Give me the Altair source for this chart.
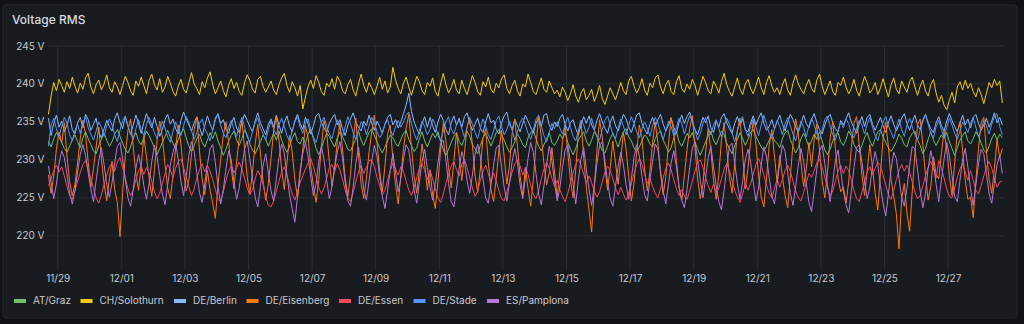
import altair as alt
import pandas as pd

# ---- data (2-hourly readings, starting 2023-11-28 17:00 local; one row per day) ----
series_names = ["AT/Graz", "CH/Solothurn", "DE/Berlin", "DE/Eisenberg", "DE/Essen", "DE/Stade", "ES/Pamplona"]
series_colors = ["#73BF69", "#F2CC0C", "#8AB8FF", "#FF780A", "#F2495C", "#5794F2", "#B877D9"]
x_tick_days = ["2023-11-29", "2023-12-01", "2023-12-03", "2023-12-05", "2023-12-07", "2023-12-09",
               "2023-12-11", "2023-12-13", "2023-12-15", "2023-12-17", "2023-12-19", "2023-12-21",
               "2023-12-23", "2023-12-25", "2023-12-27"]
y_tick_values = [220, 225, 230, 235, 240, 245]
title_text = "Voltage RMS"

at_graz = [
    232.5, 231.7, 232.8, 233.6, 233.0, 232.3, 231.5, 231.0, 231.8, 232.6, 233.3, 232.4,
    231.6, 232.9, 233.7, 232.8, 232.0, 231.2, 230.8, 231.9, 232.7, 233.5, 232.6, 231.8,
    232.4, 233.4, 234.0, 233.1, 232.2, 231.4, 230.9, 231.7, 232.9, 233.6, 232.5, 232.0,
    232.9, 233.8, 233.2, 232.4, 231.6, 230.7, 231.5, 232.3, 233.1, 233.9, 233.0, 232.2,
    231.5, 232.7, 233.5, 234.1, 232.9, 231.8, 231.1, 231.9, 232.8, 233.4, 232.3, 231.7,
    232.6, 233.6, 232.8, 233.7, 232.5, 231.6, 230.6, 231.4, 232.5, 233.2, 233.8, 232.6,
    231.9, 232.8, 233.9, 233.3, 232.1, 231.3, 230.8, 231.6, 232.4, 233.3, 232.7, 231.8,
    232.7, 233.5, 232.6, 233.8, 232.6, 231.7, 231.0, 231.8, 232.9, 233.6, 232.4, 232.1,
    233.0, 232.2, 233.4, 234.0, 232.8, 231.5, 230.7, 231.5, 232.6, 233.5, 233.1, 232.3,
    231.7, 232.9, 233.7, 233.0, 232.3, 231.4, 231.2, 232.0, 232.7, 233.8, 232.6, 231.9,
    232.8, 233.6, 234.1, 233.2, 232.4, 231.6, 230.9, 231.7, 232.5, 233.3, 232.9, 232.2,
    231.8, 232.7, 233.5, 233.9, 232.7, 231.9, 231.1, 231.6, 232.8, 233.7, 232.5, 231.7,
    232.6, 233.5, 232.9, 233.7, 232.5, 231.3, 230.6, 231.4, 232.3, 233.1, 233.6, 232.4,
    231.9, 232.8, 233.8, 233.1, 232.0, 231.5, 230.8, 231.9, 232.9, 233.5, 232.7, 231.8,
    232.7, 233.6, 234.0, 233.3, 232.6, 231.7, 231.0, 231.6, 232.4, 233.4, 232.8, 232.0,
    231.6, 232.9, 233.6, 233.9, 232.8, 231.8, 231.2, 232.0, 232.7, 233.6, 232.3, 231.9,
    232.5, 233.4, 232.8, 233.6, 232.3, 231.4, 230.7, 231.5, 232.6, 233.2, 233.7, 232.5,
    231.8, 232.6, 233.7, 233.2, 232.1, 231.2, 230.9, 231.8, 232.8, 233.5, 232.6, 231.7,
    232.8, 233.7, 234.1, 233.0, 232.5, 231.6, 231.1, 231.7, 232.5, 233.3, 232.9, 232.1,
    231.7, 232.8, 233.5, 233.8, 232.6, 231.9, 231.0, 231.6, 232.9, 233.7, 232.4, 231.8,
    232.6, 233.5, 232.9, 233.6, 232.4, 231.4, 230.6, 231.5, 232.4, 233.2, 233.8, 232.6,
    232.0, 232.9, 233.8, 233.3, 232.2, 231.5, 230.8, 231.9, 232.7, 233.6, 232.8, 231.9,
    232.7, 233.6, 234.0, 233.1, 232.4, 231.7, 231.2, 231.8, 232.6, 233.4, 232.5, 232.2,
    231.6, 232.8, 233.6, 233.9, 232.7, 231.8, 230.9, 231.6, 232.8, 233.5, 232.7, 231.7,
    232.5, 233.4, 232.7, 233.7, 232.5, 231.3, 230.7, 231.4, 232.5, 233.3, 233.6, 232.4,
    231.9, 232.7, 233.8, 233.2, 232.0, 231.4, 231.0, 231.9, 232.9, 233.6, 232.5, 231.8,
    232.8, 233.7, 234.0, 233.0, 232.3, 231.6, 231.1, 231.7, 232.4, 233.4, 232.9, 232.0,
    231.7, 232.9, 233.5, 233.8, 232.6, 231.9, 230.8, 231.5, 232.7, 233.7, 232.6, 231.9,
    232.6, 233.3, 232.8, 233.6, 232.4, 231.5, 230.6, 231.6, 232.6, 233.2, 233.7, 232.5,
    232.1, 232.8, 233.7, 233.1, 232.2, 231.3, 230.9, 231.8, 232.8, 233.5, 232.6, 233.4,
    232.9,
]

ch_solothurn = [
    236.0, 238.4, 240.2, 239.1, 240.6, 239.8, 238.9, 240.3, 239.4, 240.9, 239.7, 238.8,
    240.1, 239.3, 240.8, 241.4, 239.6, 238.7, 239.9, 240.5, 239.2, 240.0, 241.2, 239.5,
    238.9, 240.3, 239.6, 238.6, 239.8, 241.0, 240.2, 239.1, 238.5, 240.4, 239.7, 240.9,
    239.8, 238.7, 240.5, 241.3, 239.9, 239.2, 240.7, 238.9, 239.6, 241.0, 240.1, 239.0,
    238.4, 239.7, 240.6, 239.3, 238.8, 240.2, 241.5, 240.0, 239.4, 238.6, 240.3, 239.5,
    240.8, 241.6, 239.9, 238.7, 239.5, 240.4, 239.1, 238.3, 239.8, 240.7, 239.4, 240.2,
    239.0, 238.5, 240.1, 241.2, 240.5, 239.3, 238.8, 240.6, 241.0, 239.7, 238.9, 239.6,
    240.4, 239.2, 238.6, 239.9, 240.8, 241.4, 239.8, 238.9, 240.3, 239.5, 238.4, 239.8,
    236.7, 238.3, 239.7, 240.5, 239.4, 241.1, 240.2, 239.0, 238.5, 240.1, 239.6, 240.7,
    239.3, 241.0, 240.4, 239.1, 238.7, 239.9, 240.6, 239.2, 238.4, 240.0, 241.3, 239.8,
    238.9, 240.2, 239.5, 238.6, 239.7, 240.9, 239.3, 240.4, 238.8, 239.6, 242.2, 240.5,
    239.4, 238.7, 240.1, 240.9, 239.6, 238.5, 239.8, 241.0, 240.3, 239.1, 238.6, 240.2,
    239.7, 240.8, 239.0, 238.4, 240.0, 241.4, 239.9, 238.8, 239.5, 240.6, 239.2, 238.7,
    240.5, 239.4, 238.6, 239.9, 241.1, 240.2, 239.0, 238.5, 240.3, 239.6, 240.9, 239.3,
    238.8, 240.1, 239.5, 240.7, 241.2, 239.4, 238.7, 239.8, 240.5, 239.1, 238.4, 240.0,
    239.6, 241.3, 240.2, 239.0, 238.6, 239.7, 240.8, 239.3, 238.9, 240.4, 239.5, 238.7,
    239.2, 238.3, 239.6, 238.9, 237.8, 238.7, 239.9, 238.4, 237.6, 238.8, 239.4, 237.9,
    238.5, 239.3, 237.7, 238.6, 239.8, 238.1, 237.3, 238.4, 239.5, 238.7, 237.9, 239.0,
    240.2, 239.1, 238.6, 240.4, 241.0, 239.7, 238.8, 239.5, 240.7, 239.2, 238.5, 240.1,
    239.5, 240.8, 241.2, 239.6, 238.7, 239.9, 240.5, 239.0, 238.6, 240.3, 241.1, 239.4,
    238.9, 240.0, 239.3, 240.6, 239.8, 238.5, 239.7, 241.0, 240.2, 239.1, 238.7, 240.4,
    239.7, 238.8, 240.3, 241.4, 239.9, 239.0, 238.4, 239.6, 240.8, 239.3, 238.6, 240.0,
    240.6, 239.4, 238.7, 239.8, 240.9, 239.5, 238.6, 240.2, 241.1, 239.7, 238.9, 239.5,
    238.6, 239.9, 240.7, 239.2, 238.5, 240.1, 241.2, 240.0, 239.3, 238.7, 239.8, 240.6,
    239.4, 238.9, 240.5, 241.3, 239.7, 238.6, 239.5, 240.4, 239.0, 238.5, 240.2, 239.8,
    240.9, 239.6, 238.7, 239.4, 240.6, 239.2, 238.4, 239.8, 241.0, 240.1, 238.8, 239.3,
    240.2, 238.6, 239.5, 240.7, 239.4, 238.3, 239.9, 240.8, 239.3, 238.7, 240.4, 239.6,
    238.9, 240.3, 240.9, 239.6, 238.5, 239.7, 240.5, 239.1, 238.4, 239.9, 240.6, 238.8,
    237.6, 238.5, 237.2, 236.6, 237.8, 238.9, 237.5, 239.6, 240.3, 239.2, 240.5, 239.4,
    240.1, 239.0, 238.3, 239.5, 238.6, 237.4, 238.8, 240.2, 239.5, 240.6, 239.8, 240.4,
    237.5,
]

de_berlin = [
    235.5, 233.2, 234.8, 235.9, 234.3, 235.1, 233.7, 234.6, 235.8, 234.0, 233.4, 234.9,
    235.6, 234.2, 236.0, 235.3, 233.9, 234.7, 235.5, 233.6, 232.9, 234.1, 235.2, 234.4,
    233.8, 235.4, 236.2, 234.9, 234.1, 235.7, 234.5, 233.3, 234.6, 235.9, 234.8, 233.5,
    234.9, 236.1, 235.0, 234.2, 235.6, 234.4, 233.1, 234.0, 235.3, 236.0, 234.7, 235.4,
    234.1, 233.4, 235.2, 236.3, 235.4, 234.6, 233.8, 234.9, 235.7, 234.3, 233.2, 234.5,
    235.8, 234.7, 233.9, 235.5, 236.1, 234.8, 235.3, 234.0, 233.5, 234.8, 235.6, 234.2,
    233.6, 235.0, 236.0, 235.2, 234.4, 233.7, 235.1, 236.2, 234.9, 234.1, 233.3, 234.7,
    235.4, 234.3, 235.9, 234.6, 233.5, 234.9, 235.8, 234.4, 233.7, 235.2, 236.0, 234.8,
    234.0, 235.6, 234.7, 233.4, 234.5, 235.8, 236.1, 234.9, 234.2, 233.6, 234.8, 235.5,
    236.0, 234.6, 235.3, 234.1, 233.2, 234.6, 235.4, 236.2, 235.0, 234.3, 233.8, 235.1,
    234.5, 235.9, 234.8, 233.9, 235.1, 234.4, 233.5, 234.7, 235.6, 236.0, 234.6, 235.3,
    234.2, 235.0, 236.1, 237.2, 238.8, 236.4, 235.0, 234.1, 233.4, 234.8, 235.7, 234.3,
    235.6, 234.5, 233.6, 235.0, 236.0, 235.2, 234.0, 233.3, 234.9, 235.8, 234.6, 235.5,
    234.3, 235.7, 236.2, 234.8, 233.9, 234.7, 235.5, 234.2, 233.6, 235.0, 236.1, 234.9,
    235.2, 234.0, 233.4, 234.9, 235.8, 236.3, 234.7, 234.0, 235.3, 234.5, 233.7, 234.8,
    235.9, 235.1, 234.3, 233.5, 234.8, 235.6, 234.4, 235.9, 236.1, 234.6, 233.9, 235.0,
    234.4, 235.5, 236.0, 234.7, 233.8, 234.9, 235.3, 234.1, 233.3, 234.6, 235.7, 234.8,
    235.8, 234.6, 233.9, 235.2, 236.1, 235.0, 234.2, 233.5, 234.9, 235.8, 234.5, 233.8,
    234.9, 236.0, 235.4, 234.3, 233.6, 234.8, 235.9, 236.2, 234.8, 234.0, 233.4, 234.7,
    235.6, 234.4, 235.3, 236.0, 234.7, 233.8, 234.6, 235.5, 234.3, 233.5, 235.0, 235.9,
    234.8, 235.7, 236.3, 235.1, 234.0, 233.3, 234.5, 235.6, 234.9, 235.8, 234.2, 233.6,
    235.1, 234.3, 235.6, 236.1, 234.9, 234.1, 233.5, 234.8, 235.7, 234.6, 235.4, 234.0,
    233.7, 234.9, 235.8, 234.6, 235.5, 236.2, 234.8, 233.9, 234.4, 235.3, 234.1, 235.0,
    235.9, 234.7, 233.8, 235.0, 236.0, 235.3, 234.3, 233.6, 234.7, 235.9, 234.8, 234.2,
    235.3, 236.1, 234.9, 234.0, 233.4, 234.6, 235.5, 236.0, 234.9, 234.1, 233.7, 235.2,
    234.6, 235.4, 236.2, 235.0, 234.2, 233.5, 234.8, 235.7, 234.4, 235.6, 236.0, 234.7,
    233.9, 234.8, 235.6, 234.5, 233.6, 234.9, 235.8, 234.7, 233.8, 234.6, 235.5, 236.1,
    234.8, 233.9, 235.0, 235.9, 234.6, 234.0, 235.3, 236.0, 234.9, 234.1, 233.6, 234.9,
    235.7, 234.5, 233.8, 235.1, 236.1, 235.2, 234.4, 233.7, 234.8, 235.9, 234.6, 235.4,
    234.2, 235.6, 236.0, 234.8, 233.9, 234.6, 235.5, 234.3, 235.1, 236.2, 234.9, 235.6,
    234.6,
]

de_eisenberg = [
    228.0, 225.6, 227.9, 231.4, 233.7, 232.2, 234.9, 230.5, 227.1, 225.3, 226.8, 229.6,
    232.8, 235.2, 233.4, 229.7, 226.4, 228.9, 231.7, 234.3, 230.1, 226.9, 224.6, 227.5,
    229.8, 226.1, 224.4, 219.9, 225.7, 230.6, 233.9, 235.4, 231.8, 228.2, 226.0, 229.3,
    233.1, 230.4, 227.6, 225.2, 228.7, 232.6, 235.1, 233.0, 229.4, 226.3, 224.9, 228.0,
    231.5, 234.6, 232.1, 228.4, 225.9, 227.3, 230.8, 234.0, 235.6, 231.2, 227.5, 225.4,
    228.6, 226.0, 224.3, 222.3, 226.8, 230.1, 233.3, 235.0, 232.4, 228.9, 226.2, 229.7,
    232.9, 235.3, 231.6, 227.8, 225.5, 228.4, 232.0, 234.7, 230.9, 227.2, 224.7, 226.9,
    230.3, 233.8, 235.7, 232.6, 228.7, 226.1, 229.5, 233.2, 231.0, 227.4, 225.0, 228.2,
    231.4, 234.5, 232.9, 229.1, 226.6, 224.4, 227.3, 231.8, 235.2, 233.6, 229.8, 226.5,
    228.8, 232.4, 234.9, 231.3, 227.6, 225.2, 228.1, 232.7, 235.5, 230.6, 226.8, 224.9,
    227.6, 231.0, 233.7, 235.9, 232.3, 228.5, 225.8, 229.2, 233.4, 234.6, 230.0, 226.7,
    224.2, 227.9, 231.5, 234.2, 236.0, 231.7, 227.9, 225.6, 228.6, 232.1, 229.4, 226.0,
    228.7, 225.4, 223.6, 227.1, 231.3, 234.8, 232.5, 229.0, 226.3, 229.8, 233.6, 230.5,
    227.3, 230.9, 234.4, 235.6, 231.9, 228.0, 225.7, 228.8, 232.9, 234.1, 229.7, 226.1,
    224.5, 227.6, 231.2, 233.9, 230.4, 226.8, 229.3, 233.5, 235.4, 231.8, 227.9, 225.3,
    229.0, 226.2, 223.9, 227.4, 232.0, 235.7, 233.1, 229.5, 226.7, 228.3, 231.6, 228.4,
    225.1, 228.5, 232.4, 234.6, 231.0, 227.3, 225.0, 228.7, 233.8, 235.2, 230.3, 226.4,
    223.4, 220.5, 226.3, 231.2, 235.3, 233.0, 229.1, 226.0, 228.9, 232.5, 229.6, 226.8,
    230.2, 233.6, 231.4, 227.8, 224.6, 226.9, 231.1, 234.6, 232.8, 228.7, 225.9, 228.5,
    232.3, 235.0, 232.2, 228.2, 225.4, 227.8, 232.1, 235.6, 233.7, 229.9, 226.4, 224.7,
    227.9, 231.4, 234.1, 235.8, 231.6, 227.5, 224.9, 226.8, 230.9, 234.2, 231.2, 227.3,
    224.8, 228.1, 232.6, 234.9, 231.5, 227.7, 225.6, 229.4, 233.9, 235.5, 230.7, 226.2,
    228.9, 232.4, 235.2, 232.1, 228.0, 225.1, 223.8, 227.6, 231.9, 234.0, 230.5, 227.0,
    230.6, 227.8, 225.3, 223.7, 227.9, 232.2, 235.4, 233.5, 229.6, 226.5, 228.8, 232.3,
    229.1, 232.7, 234.7, 231.3, 227.2, 225.0, 228.3, 232.8, 235.1, 231.5, 227.6, 225.8,
    226.4, 224.3, 227.1, 231.6, 234.8, 235.7, 231.9, 228.0, 225.3, 228.6, 232.0, 228.9,
    225.6, 223.4, 228.2, 232.9, 235.0, 231.7, 227.4, 225.2, 222.9, 218.3, 224.8, 226.9,
    223.0, 220.6, 225.9, 230.8, 234.6, 235.4, 232.0, 227.9, 224.7, 226.5, 230.4, 228.1,
    227.5, 230.9, 233.8, 231.4, 228.0, 225.3, 229.6, 233.7, 235.0, 231.2, 227.3, 224.8,
    225.1, 222.4, 227.2, 231.5, 234.9, 235.6, 231.1, 227.4, 225.6, 228.9, 232.6, 230.3,
    231.5,
]

de_essen = [
    226.6, 227.5, 228.6, 229.3, 228.4, 229.1, 227.9, 226.5, 225.3, 224.8, 225.9, 227.2,
    228.3, 229.4, 229.9, 228.8, 227.5, 226.3, 225.0, 224.3, 225.4, 226.8, 228.0, 229.1,
    229.6, 228.5, 229.7, 230.3, 229.0, 227.6, 226.2, 225.3, 226.0, 227.4, 228.6, 229.2,
    228.1, 229.0, 228.3, 227.2, 225.8, 224.9, 225.6, 226.9, 228.2, 229.4, 228.7, 227.6,
    228.9, 229.8, 230.1, 229.0, 227.8, 226.5, 225.3, 226.2, 227.6, 228.7, 229.5, 228.4,
    229.3, 228.5, 227.4, 226.1, 224.8, 224.5, 225.8, 227.3, 228.5, 229.2, 228.3, 229.0,
    229.7, 228.8, 227.6, 226.3, 225.4, 226.0, 227.5, 228.6, 227.9, 226.8, 225.1, 224.0,
    223.8, 224.6, 225.9, 227.2, 228.4, 229.1, 228.0, 226.7, 225.5, 224.7, 225.8, 227.0,
    227.9, 228.8, 229.6, 230.2, 229.1, 227.8, 226.4, 225.5, 226.3, 227.6, 228.9, 229.4,
    228.5, 229.5, 228.7, 227.4, 226.0, 225.0, 224.5, 225.7, 227.1, 228.4, 229.3, 228.2,
    229.0, 229.9, 230.0, 229.1, 227.7, 226.6, 225.4, 226.0, 227.3, 228.6, 229.6, 228.8,
    228.0, 229.1, 228.5, 227.2, 226.0, 225.3, 226.4, 227.7, 228.9, 229.5, 228.6, 227.4,
    228.6, 227.5, 226.2, 225.0, 224.4, 225.5, 226.9, 228.1, 229.2, 229.8, 228.7, 227.9,
    229.4, 230.1, 229.0, 227.6, 226.3, 225.2, 225.9, 227.3, 228.5, 229.3, 228.2, 227.0,
    228.3, 227.2, 226.0, 224.9, 224.6, 225.8, 227.1, 228.4, 229.5, 230.0, 229.2, 228.0,
    229.0, 228.1, 226.7, 225.4, 224.9, 226.0, 227.5, 228.8, 229.7, 228.9, 227.6, 226.5,
    227.3, 226.1, 225.2, 224.5, 225.6, 227.0, 228.3, 229.4, 230.1, 229.3, 228.1, 227.0,
    227.9, 227.0, 225.9, 225.1, 225.8, 227.1, 228.4, 229.2, 228.6, 227.5, 226.3, 225.4,
    226.4, 225.5, 224.7, 225.6, 226.9, 228.2, 229.4, 230.2, 229.4, 228.1, 226.9, 227.6,
    226.5, 225.6, 225.0, 226.2, 227.6, 228.9, 229.6, 228.7, 227.4, 226.2, 225.3, 226.1,
    225.2, 224.8, 225.9, 227.2, 228.5, 229.7, 230.0, 229.0, 227.7, 226.6, 225.7, 226.8,
    225.6, 226.3, 227.5, 228.8, 229.5, 228.6, 227.3, 226.0, 225.1, 224.4, 225.5, 226.9,
    226.0, 226.9, 228.1, 229.4, 230.2, 229.3, 228.0, 226.7, 225.6, 225.0, 226.2, 227.5,
    226.4, 227.4, 228.6, 229.3, 228.5, 227.2, 225.9, 225.0, 224.6, 225.7, 227.0, 228.2,
    227.7, 228.6, 229.6, 230.1, 229.0, 227.7, 226.4, 225.3, 225.9, 227.2, 228.5, 229.3,
    228.2, 229.2, 228.6, 227.3, 226.0, 224.9, 224.5, 225.8, 227.1, 228.4, 229.1, 228.0,
    228.9, 229.7, 229.3, 228.0, 226.7, 225.4, 224.8, 226.0, 227.4, 228.6, 229.4, 228.5,
    229.3, 228.4, 227.1, 225.8, 224.9, 225.3, 226.6, 227.9, 229.0, 229.8, 228.8, 227.6,
    229.9, 228.9, 227.6, 226.2, 225.2, 225.0, 226.3, 227.7, 228.8, 229.5, 228.4, 227.3,
    228.6, 227.3, 226.0, 225.5, 226.6, 227.9, 229.0, 229.8, 228.9, 227.6, 226.4, 227.1,
    227.2,
]

de_stade = [
    231.8, 234.6, 235.5, 234.1, 233.0, 234.4, 235.6, 234.8, 233.3, 232.5, 233.9, 234.7,
    233.5, 234.9, 235.7, 234.2, 233.4, 232.6, 233.8, 235.0, 234.3, 233.1, 234.5, 235.4,
    234.6, 233.3, 232.4, 233.9, 235.2, 235.8, 234.4, 233.5, 232.7, 234.1, 235.3, 234.0,
    233.2, 234.7, 235.6, 234.6, 233.6, 232.8, 234.0, 235.1, 234.2, 233.0, 232.3, 233.8,
    235.0, 234.1, 233.2, 234.5, 235.7, 234.9, 233.8, 232.7, 233.6, 234.8, 235.4, 234.1,
    233.4, 232.5, 233.9, 235.3, 235.9, 234.6, 233.5, 232.9, 234.3, 235.2, 234.0, 233.1,
    234.5, 235.6, 234.3, 233.0, 232.4, 233.7, 234.9, 235.5, 234.2, 233.4, 232.6, 234.0,
    235.1, 234.0, 233.3, 234.6, 235.5, 234.4, 233.2, 232.5, 233.9, 235.0, 235.7, 234.3,
    233.5, 234.8, 235.4, 234.1, 233.0, 232.3, 233.6, 234.9, 235.6, 234.5, 233.4, 232.8,
    234.2, 235.3, 234.0, 233.1, 234.4, 235.7, 234.8, 233.6, 232.7, 233.8, 235.0, 234.6,
    233.3, 234.5, 235.6, 234.9, 233.7, 232.9, 233.5, 234.7, 235.3, 234.0, 233.2, 234.4,
    235.2, 234.3, 235.0, 235.9, 236.3, 234.8, 233.5, 232.6, 233.9, 235.1, 234.4, 233.3,
    234.0, 235.4, 234.6, 233.2, 232.5, 233.8, 235.0, 235.7, 234.1, 233.4, 234.6, 235.3,
    234.1, 233.0, 234.3, 235.5, 234.7, 233.6, 232.8, 234.2, 235.4, 234.5, 233.3, 232.7,
    233.9, 235.2, 235.8, 234.4, 233.3, 234.0, 235.1, 233.9, 232.6, 233.7, 234.9, 235.5,
    234.6, 233.5, 232.7, 234.0, 235.3, 235.9, 234.5, 233.2, 232.4, 233.6, 234.8, 234.1,
    235.0, 234.2, 233.4, 234.7, 235.6, 234.3, 233.1, 232.5, 233.9, 235.2, 234.6, 233.5,
    234.3, 235.5, 234.1, 233.0, 232.6, 234.0, 235.2, 235.8, 234.6, 233.4, 232.8, 234.2,
    235.4, 234.4, 233.3, 234.6, 235.7, 234.8, 233.7, 232.9, 234.1, 235.0, 234.2, 233.1,
    234.5, 235.6, 234.9, 233.6, 232.7, 233.9, 235.1, 234.4, 233.2, 234.3, 235.5, 234.8,
    233.4, 234.7, 235.8, 235.0, 233.9, 232.6, 233.5, 234.8, 235.6, 234.2, 233.3, 234.6,
    235.3, 234.1, 233.0, 234.4, 235.5, 234.7, 233.6, 232.4, 233.8, 235.0, 235.7, 234.0,
    233.1, 234.5, 235.4, 234.3, 233.2, 234.6, 235.9, 234.7, 233.5, 232.8, 234.1, 235.2,
    234.4, 233.3, 234.7, 235.6, 234.5, 233.4, 232.5, 233.9, 235.1, 234.3, 233.0, 234.5,
    235.5, 234.6, 233.4, 232.7, 234.0, 235.3, 235.8, 234.4, 233.3, 232.6, 233.9, 235.0,
    234.2, 235.4, 234.8, 233.5, 232.9, 234.1, 235.2, 234.6, 233.4, 234.7, 235.6, 234.3,
    233.2, 232.5, 233.8, 235.0, 235.7, 234.5, 233.6, 232.8, 234.2, 235.4, 234.0, 233.1,
    234.6, 235.5, 234.4, 233.3, 232.6, 233.9, 235.1, 235.9, 234.7, 233.5, 232.9, 234.3,
    235.2, 234.0, 232.9, 234.3, 235.5, 234.6, 233.5, 232.7, 233.8, 235.0, 234.4, 233.6,
    234.8, 235.6, 234.3, 233.1, 234.0, 235.2, 234.5, 233.4, 234.7, 235.8, 236.1, 234.4,
    233.3,
]

es_pamplona = [
    229.2, 227.0, 224.9, 226.8, 229.5, 231.2, 230.3, 228.1, 225.6, 224.2, 226.0, 228.4,
    230.7, 232.0, 230.6, 228.3, 226.2, 224.5, 227.3, 229.9, 231.6, 229.4, 226.8, 225.1,
    227.0, 229.6, 231.8, 232.3, 230.1, 227.4, 225.0, 223.9, 226.1, 228.9, 230.7, 229.0,
    226.6, 224.8, 226.9, 229.8, 231.9, 230.4, 227.9, 225.5, 224.1, 226.7, 229.3, 231.0,
    232.2, 230.0, 227.2, 225.3, 227.8, 230.6, 232.4, 231.1, 228.3, 225.7, 224.4, 226.9,
    229.4, 231.5, 232.0, 229.6, 226.5, 224.2, 226.1, 228.8, 231.2, 230.0, 227.1, 224.8,
    226.3, 228.9, 231.4, 232.5, 230.2, 227.6, 225.1, 223.8, 226.5, 229.2, 230.8, 228.3,
    225.9, 224.6, 227.5, 230.3, 232.1, 230.9, 228.0, 225.4, 223.6, 221.8, 225.2, 228.6,
    230.9, 232.3, 230.4, 227.7, 225.3, 226.8, 229.7, 231.8, 230.1, 227.3, 224.9, 226.5,
    228.9, 231.0, 232.4, 230.2, 227.0, 224.6, 223.9, 226.4, 229.5, 231.7, 229.2, 226.1,
    224.7, 227.2, 229.9, 231.9, 230.5, 227.8, 225.2, 223.6, 226.0, 228.7, 230.9, 228.4,
    225.8, 227.6, 230.1, 232.0, 231.3, 228.6, 226.0, 224.3, 227.1, 229.8, 231.4, 229.0,
    226.4, 224.7, 226.8, 229.6, 232.2, 232.6, 230.0, 226.9, 224.5, 223.8, 226.2, 228.9,
    231.1, 229.8, 227.2, 225.6, 228.0, 230.7, 232.1, 230.4, 227.5, 225.0, 224.3, 226.7,
    229.3, 231.6, 231.9, 229.0, 226.4, 224.6, 226.9, 229.8, 231.5, 229.6, 226.7, 224.9,
    227.6, 230.2, 232.3, 231.0, 228.2, 225.5, 224.1, 226.6, 229.4, 231.8, 229.9, 227.0,
    224.6, 226.3, 229.0, 231.3, 232.0, 229.7, 226.8, 224.2, 227.4, 230.1, 231.6, 228.8,
    226.2, 224.0, 226.6, 229.5, 231.9, 232.4, 229.9, 227.1, 224.9, 223.9, 226.5, 229.2,
    231.0, 229.3, 226.7, 224.8, 227.5, 230.4, 232.0, 230.5, 227.8, 225.4, 224.6, 227.3,
    229.8, 232.1, 231.4, 228.6, 225.9, 224.2, 226.8, 229.6, 231.2, 229.1, 226.4, 224.7,
    223.7, 226.1, 229.0, 231.6, 232.3, 230.0, 227.3, 225.0, 227.6, 230.3, 231.8, 229.1,
    226.6, 224.5, 223.4, 226.0, 229.1, 231.8, 232.2, 229.6, 226.9, 224.8, 227.2, 230.0,
    231.4, 229.7, 227.0, 224.6, 226.3, 229.4, 231.7, 230.4, 227.7, 225.2, 224.2, 226.9,
    229.6, 232.0, 231.1, 228.3, 225.6, 224.0, 226.5, 229.3, 231.5, 229.8, 226.9, 224.4,
    223.2, 225.9, 228.8, 231.2, 231.9, 229.5, 226.7, 224.5, 227.0, 229.9, 231.3, 228.6,
    225.9, 224.1, 223.0, 225.8, 229.0, 231.6, 232.0, 229.8, 227.1, 224.9, 226.4, 229.3,
    231.1, 229.4, 226.6, 224.2, 222.6, 225.5, 228.7, 231.0, 230.2, 227.6, 225.1, 223.9,
    226.3, 229.2, 231.8, 231.4, 228.7, 225.9, 223.7, 225.6, 228.9, 231.2, 229.5, 226.8,
    224.5, 227.4, 230.1, 232.3, 230.6, 227.9, 225.2, 224.5, 227.3, 230.0, 231.5, 229.0,
    226.2, 224.0, 226.7, 229.5, 231.4, 230.8, 228.1, 225.6, 224.3, 226.9, 229.4, 230.6,
    228.2,
]

all_series = [at_graz, ch_solothurn, de_berlin, de_eisenberg, de_essen, de_stade, es_pamplona]

rows = []
for name, vals in zip(series_names, all_series):
    times = pd.date_range("2023-11-28 17:00", periods=len(vals), freq="2h")
    for t, v in zip(times, vals):
        rows.append({"time": t.strftime("%Y-%m-%dT%H:%M:%S"), "series": name, "value": v})
df = pd.DataFrame(rows)

vgrid_df = pd.DataFrame({"time": [d + "T00:00:00" for d in x_tick_days]})
hgrid_df = pd.DataFrame({"value": y_tick_values})

tick_dates = [alt.DateTime(year=int(d[0:4]), month=int(d[5:7]), date=int(d[8:10])) for d in x_tick_days]

TEXT = "#c8c9d1"
GRID = "#2a2d33"
FONT = "Inter"

x_scale = alt.Scale(domain=[
    alt.DateTime(year=2023, month=11, date=28, hours=16, minutes=40),
    alt.DateTime(year=2023, month=12, date=28, hours=18, minutes=15),
])
y_scale = alt.Scale(domain=[215.5, 245], nice=False, zero=False)

x_axis = alt.Axis(
    values=tick_dates, format="%m/%d", title=None, grid=False,
    domain=False, ticks=False, labelColor=TEXT, labelFont=FONT, labelFontSize=10,
    labelPadding=3, labelFlush=False, labelOverlap=False, zindex=1,
)
y_axis = alt.Axis(
    values=y_tick_values, labelExpr="datum.value + ' V'", title=None, grid=False,
    domain=False, ticks=False, labelColor=TEXT, labelFont=FONT,
    labelFontSize=10, labelPadding=4, zindex=1,
)

panel = alt.Chart(alt.Data(values=[{}])).mark_rect(
    fill="#181b1f", stroke="#25282e", strokeWidth=1, cornerRadius=3
).encode(
    x=alt.value(-45), x2=alt.value(969), y=alt.value(-41), y2=alt.value(272)
)

hgrid = alt.Chart(hgrid_df).mark_rule(color=GRID, strokeWidth=1).encode(
    y=alt.Y("value:Q", scale=y_scale, axis=y_axis)
)
vgrid = alt.Chart(vgrid_df).mark_rule(color=GRID, strokeWidth=1).encode(
    x=alt.X("time:T", scale=x_scale, axis=x_axis)
)

lines = alt.Chart(df).mark_line(strokeWidth=1, interpolate="linear").encode(
    x=alt.X("time:T", scale=x_scale, axis=x_axis),
    y=alt.Y("value:Q", scale=y_scale, axis=y_axis),
    color=alt.Color(
        "series:N",
        scale=alt.Scale(domain=series_names, range=series_colors),
        legend=alt.Legend(
            orient="none", legendX=-36, legendY=247, direction="horizontal", columns=7,
            title=None, symbolType="stroke", symbolStrokeWidth=4, symbolSize=144,
            labelColor=TEXT, labelFont=FONT, labelFontSize=10, columnPadding=1.5,
            labelOffset=5, padding=0, zindex=1,
        ),
    ),
)

title = alt.Chart(alt.Data(values=[{"t": title_text}])).mark_text(
    align="left", baseline="middle", font=FONT, fontSize=12, fontWeight=500, color="#d8d9e0"
).encode(
    x=alt.value(-36), y=alt.value(-26), text="t:N"
)

chart = alt.layer(panel, hgrid, vgrid, lines, title).properties(
    width=956,
    height=224,
    autosize=alt.AutoSizeParams(type="none"),
    padding={"left": 48, "top": 46, "right": 20, "bottom": 54},
    background="#111217",
).configure_view(stroke=None)

chart.save("out.html", embed_options={"renderer": "svg", "actions": False})
